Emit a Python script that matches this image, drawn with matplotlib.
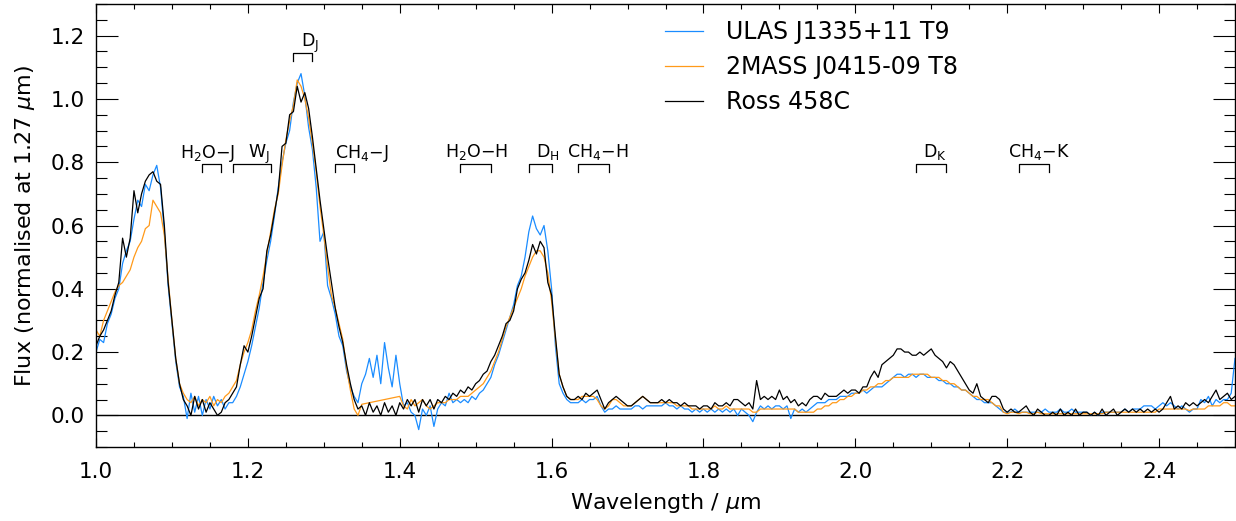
import numpy as np
import matplotlib
matplotlib.use("Agg")
import matplotlib.pyplot as plt
from matplotlib.ticker import MultipleLocator, FixedLocator, FormatStrFormatter

plt.rcParams['font.family'] = ['DejaVu Sans']

# ---------------- data ----------------
wave = np.round(np.linspace(1.0, 2.5, 301), 3)   # 0.005 micron sampling

ross458c = [
    0.22, 0.25, 0.27, 0.30, 0.33, 0.38, 0.42, 0.56, 0.50, 0.56,
    0.71, 0.64, 0.70, 0.74, 0.76, 0.77, 0.74, 0.73, 0.60, 0.42,
    0.30, 0.18, 0.10, 0.05, 0.03, 0.00, 0.06, 0.02, 0.05, 0.01,
    0.04, 0.02, 0.00, 0.01, 0.04, 0.05, 0.07, 0.09, 0.16, 0.22,
    0.20, 0.25, 0.31, 0.37, 0.40, 0.52, 0.57, 0.64, 0.71, 0.85,
    0.86, 0.95, 0.96, 1.04, 0.99, 1.02, 0.97, 0.88, 0.78, 0.68,
    0.59, 0.50, 0.42, 0.34, 0.28, 0.23, 0.16, 0.10, 0.05, 0.02,
    0.03, 0.00, 0.04, 0.01, 0.03, 0.00, 0.04, 0.01, 0.03, 0.00,
    0.04, 0.02, 0.05, 0.03, 0.05, 0.01, 0.05, 0.03, 0.05, 0.02,
    0.05, 0.04, 0.06, 0.05, 0.07, 0.06, 0.08, 0.07, 0.09, 0.08,
    0.10, 0.11, 0.13, 0.14, 0.17, 0.19, 0.22, 0.25, 0.29, 0.30,
    0.33, 0.40, 0.43, 0.45, 0.49, 0.54, 0.51, 0.55, 0.53, 0.42,
    0.38, 0.25, 0.13, 0.09, 0.06, 0.05, 0.05, 0.06, 0.05, 0.07,
    0.06, 0.07, 0.08, 0.05, 0.02, 0.04, 0.05, 0.06, 0.05, 0.04,
    0.03, 0.03, 0.04, 0.05, 0.06, 0.05, 0.04, 0.04, 0.04, 0.05,
    0.04, 0.05, 0.04, 0.04, 0.03, 0.04, 0.03, 0.03, 0.03, 0.02,
    0.03, 0.03, 0.02, 0.04, 0.03, 0.03, 0.04, 0.03, 0.05, 0.05,
    0.04, 0.03, 0.04, 0.02, 0.11, 0.05, 0.06, 0.05, 0.06, 0.05,
    0.08, 0.05, 0.06, 0.04, 0.05, 0.03, 0.04, 0.03, 0.05, 0.06,
    0.06, 0.05, 0.07, 0.06, 0.06, 0.06, 0.07, 0.08, 0.07, 0.08,
    0.08, 0.07, 0.09, 0.09, 0.12, 0.14, 0.12, 0.16, 0.17, 0.18,
    0.19, 0.21, 0.21, 0.20, 0.20, 0.19, 0.19, 0.20, 0.19, 0.20,
    0.21, 0.19, 0.18, 0.17, 0.15, 0.17, 0.16, 0.14, 0.12, 0.10,
    0.08, 0.07, 0.10, 0.06, 0.05, 0.04, 0.06, 0.06, 0.05, 0.02,
    0.01, 0.02, 0.01, 0.01, 0.02, 0.03, 0.01, 0.00, 0.02, 0.01,
    0.00, 0.00, 0.01, 0.00, 0.02, 0.00, 0.01, 0.00, 0.02, 0.00,
    0.01, 0.01, 0.00, 0.01, 0.00, 0.02, 0.00, 0.01, 0.02, 0.00,
    0.01, 0.02, 0.01, 0.02, 0.01, 0.02, 0.01, 0.02, 0.01, 0.02,
    0.01, 0.02, 0.04, 0.06, 0.02, 0.03, 0.02, 0.04, 0.03, 0.04,
    0.03, 0.04, 0.05, 0.04, 0.06, 0.08, 0.05, 0.06, 0.07, 0.05,
    0.06,
]

ulas1335 = [
    0.20, 0.24, 0.23, 0.29, 0.32, 0.37, 0.40, 0.48, 0.52, 0.55,
    0.62, 0.68, 0.66, 0.73, 0.71, 0.76, 0.79, 0.72, 0.58, 0.41,
    0.29, 0.17, 0.09, 0.06, -0.01, 0.07, 0.01, 0.06, 0.00, 0.05,
    0.02, 0.06, 0.03, 0.05, 0.02, 0.04, 0.04, 0.06, 0.09, 0.13,
    0.17, 0.22, 0.28, 0.34, 0.42, 0.49, 0.55, 0.63, 0.72, 0.80,
    0.86, 0.90, 0.99, 1.05, 1.08, 1.01, 0.91, 0.84, 0.72, 0.55,
    0.58, 0.41, 0.37, 0.32, 0.25, 0.22, 0.14, 0.09, 0.06, 0.04,
    0.10, 0.13, 0.18, 0.12, 0.19, 0.10, 0.23, 0.15, 0.09, 0.19,
    0.10, 0.03, 0.04, 0.01, 0.00, -0.045, 0.02, 0.00, 0.03, -0.035,
    0.02, 0.04, 0.03, 0.07, 0.04, 0.05, 0.04, 0.05, 0.04, 0.06,
    0.05, 0.07, 0.08, 0.10, 0.12, 0.16, 0.19, 0.23, 0.27, 0.31,
    0.35, 0.41, 0.44, 0.50, 0.58, 0.63, 0.59, 0.57, 0.60, 0.52,
    0.40, 0.22, 0.10, 0.07, 0.05, 0.04, 0.04, 0.04, 0.05, 0.04,
    0.05, 0.05, 0.06, 0.03, 0.01, 0.02, 0.02, 0.03, 0.02, 0.02,
    0.02, 0.02, 0.03, 0.03, 0.02, 0.03, 0.03, 0.03, 0.03, 0.03,
    0.04, 0.03, 0.03, 0.02, 0.03, 0.02, 0.02, 0.01, 0.02, 0.01,
    0.02, 0.01, 0.02, 0.01, 0.02, 0.01, 0.02, 0.01, 0.02, 0.00,
    0.02, 0.01, 0.00, -0.02, 0.01, 0.03, 0.02, 0.03, 0.02, 0.03,
    0.03, 0.02, 0.03, -0.01, 0.02, 0.01, 0.02, 0.01, 0.02, 0.03,
    0.04, 0.04, 0.04, 0.05, 0.05, 0.05, 0.06, 0.06, 0.06, 0.07,
    0.07, 0.07, 0.08, 0.07, 0.08, 0.09, 0.09, 0.09, 0.10, 0.11,
    0.12, 0.13, 0.13, 0.12, 0.13, 0.13, 0.12, 0.13, 0.13, 0.12,
    0.12, 0.12, 0.11, 0.11, 0.10, 0.10, 0.09, 0.09, 0.08, 0.08,
    0.07, 0.06, 0.05, 0.05, 0.04, 0.04, 0.04, 0.03, 0.02, 0.01,
    0.01, 0.01, 0.02, 0.01, 0.01, 0.01, 0.01, 0.01, 0.01, 0.01,
    0.02, 0.01, 0.01, 0.01, 0.02, 0.01, 0.01, 0.02, 0.01, 0.01,
    0.01, 0.01, 0.00, 0.01, 0.00, 0.01, 0.01, 0.01, 0.01, 0.01,
    0.01, 0.02, 0.01, 0.02, 0.02, 0.02, 0.03, 0.03, 0.03, 0.02,
    0.03, 0.04, 0.03, 0.04, 0.03, 0.02, 0.03, 0.02, 0.01, 0.02,
    0.02, 0.05, 0.04, 0.06, 0.03, 0.05, 0.04, 0.05, 0.05, 0.07,
    0.18,
]

nan = np.nan
twomass0415 = [
    0.27, 0.25, 0.30, 0.33, 0.36, 0.39, 0.41, 0.42, 0.44, 0.46,
    0.50, 0.53, 0.55, 0.59, 0.60, 0.68, 0.66, 0.64, 0.57, 0.43,
    0.30, 0.18, 0.10, 0.07, 0.05, 0.04, 0.06, 0.03, 0.05, 0.04,
    0.06, 0.03, 0.05, 0.04, 0.06, 0.07, 0.09, 0.11, 0.16, 0.20,
    0.23, 0.27, 0.33, 0.38, 0.44, 0.51, 0.58, 0.65, 0.70, 0.79,
    0.87, 0.93, 0.98, 1.06, 1.04, 1.00, 0.94, 0.86, 0.77, 0.66,
    0.57, 0.47, 0.38, 0.34, 0.29, 0.24, 0.15, 0.08, 0.02, 0.00,
    0.035, nan, nan, nan, nan, nan, nan, nan, nan, nan,
    0.06, 0.03, 0.02, 0.05, 0.03, 0.04, 0.05, 0.03, 0.02, 0.03,
    0.04, 0.04, 0.04, 0.05, 0.05, 0.05, 0.06, 0.06, 0.06, 0.07,
    0.08, 0.09, 0.10, 0.12, 0.14, 0.17, 0.20, 0.24, 0.28, 0.31,
    0.34, 0.37, 0.40, 0.44, 0.47, 0.50, 0.52, 0.52, 0.50, 0.45,
    0.36, 0.24, 0.13, 0.09, 0.06, 0.05, 0.05, 0.05, 0.06, 0.06,
    0.06, 0.06, 0.05, 0.03, 0.02, 0.03, 0.05, 0.05, 0.04, 0.03,
    0.03, 0.03, 0.04, 0.05, 0.06, 0.05, 0.04, 0.04, 0.04, 0.04,
    0.04, 0.04, 0.04, 0.03, 0.03, 0.03, 0.03, 0.02, 0.02, 0.02,
    0.02, 0.02, 0.02, 0.03, 0.02, 0.02, 0.03, 0.02, 0.02, 0.02,
    0.02, 0.02, 0.02, 0.01, 0.01, 0.02, 0.02, 0.02, 0.02, 0.02,
    0.02, 0.02, 0.02, 0.02, 0.02, 0.01, 0.01, 0.01, 0.01, 0.01,
    0.02, 0.02, 0.03, 0.03, 0.04, 0.04, 0.05, 0.05, 0.06, 0.06,
    0.07, 0.07, 0.08, 0.08, 0.09, 0.09, 0.10, 0.10, 0.11, 0.11,
    0.12, 0.12, 0.12, 0.12, 0.12, 0.13, 0.13, 0.13, 0.13, 0.13,
    0.12, 0.12, 0.12, 0.11, 0.11, 0.10, 0.10, 0.09, 0.08, 0.08,
    0.07, 0.06, 0.06, 0.05, 0.05, 0.05, 0.04, 0.03, 0.03, 0.01,
    0.005, 0.01, 0.01, 0.005, 0.01, 0.01, 0.005, 0.005, 0.01, 0.005,
    0.005, 0.005, 0.005, 0.005, 0.005, 0.005, 0.005, 0.005, 0.005, 0.005,
    0.005, 0.005, 0.005, 0.005, 0.005, 0.005, 0.01, 0.01, 0.01, 0.01,
    0.01, 0.01, 0.01, 0.01, 0.01, 0.01, 0.01, 0.01, 0.01, 0.01,
    0.02, 0.02, 0.02, 0.02, 0.02, 0.02, 0.02, 0.02, 0.015, 0.02,
    0.02, 0.02, 0.02, 0.03, 0.03, 0.03, 0.03, 0.04, 0.04, 0.03,
    0.03,
]

series_names = ["ULAS J1335+11 T9", "2MASS J0415-09 T8", "Ross 458C"]
series_colors = ["#1a8cff", "#ff9a1a", "black"]

# spectral index windows
feature_labels = [r"H$_\mathregular{2}$O$-$J", r"W$_\mathregular{J}$", r"D$_\mathregular{J}$",
                  r"CH$_\mathregular{4}$$-$J", r"H$_\mathregular{2}$O$-$H", r"D$_\mathregular{H}$",
                  r"CH$_\mathregular{4}$$-$H", r"D$_\mathregular{K}$", r"CH$_\mathregular{4}$$-$K"]
feature_lo = [1.140, 1.180, 1.260, 1.315, 1.480, 1.570, 1.635, 2.080, 2.215]
feature_hi = [1.165, 1.230, 1.285, 1.340, 1.520, 1.600, 1.675, 2.120, 2.255]
feature_level = [0.795, 0.795, 1.145, 0.795, 0.795, 0.795, 0.795, 0.795, 0.795]
label_x = [1.110, 1.200, 1.270, 1.3145, 1.459, 1.580, 1.620, 2.089, 2.201]
label_y = [0.812, 0.812, 1.164, 0.812, 0.815, 0.815, 0.815, 0.815, 0.815]

xticks = [1.0, 1.2, 1.4, 1.6, 1.8, 2.0, 2.2, 2.4]
yticks = [0.0, 0.2, 0.4, 0.6, 0.8, 1.0, 1.2]

# ---------------- figure ----------------
W, H = 1236, 521
fig = plt.figure(figsize=(W / 100, H / 100), dpi=100)
ax = fig.add_axes([96 / W, 74 / H, 1139 / W, 443 / H])

spectra = [ulas1335, twomass0415, ross458c]
for flux, name, col in zip(spectra, series_names, series_colors):
    y = np.asarray(flux, dtype=float)
    m = ~np.isnan(y)
    ax.plot(wave[m], y[m], color=col, lw=0.9, label=name)

ax.axhline(0.0, color="black", lw=1.0, zorder=0)

# feature brackets
for lo, hi, lev in zip(feature_lo, feature_hi, feature_level):
    ax.plot([lo, lo, hi, hi], [lev - 0.025, lev, lev, lev - 0.025], color="black", lw=0.9)
for lab, lx, ly in zip(feature_labels, label_x, label_y):
    ax.text(lx, ly, lab, fontsize=12.5, ha="left", va="baseline")

ax.set_xlim(1.0, 2.5)
ax.set_ylim(-0.1, 1.3)
ax.xaxis.set_major_locator(FixedLocator(xticks))
ax.yaxis.set_major_locator(FixedLocator(yticks))
ax.xaxis.set_minor_locator(MultipleLocator(0.05))
ax.yaxis.set_minor_locator(MultipleLocator(0.05))
ax.xaxis.set_major_formatter(FormatStrFormatter("%.1f"))
ax.yaxis.set_major_formatter(FormatStrFormatter("%.1f"))

ax.tick_params(axis="x", which="major", direction="in", top=True, bottom=True,
               length=6.5, width=0.8, labelsize=15.5, pad=11)
ax.tick_params(axis="x", which="minor", direction="in", top=True, bottom=True,
               length=3.3, width=0.8)
ax.tick_params(axis="y", which="major", direction="in", left=True, right=True,
               length=15.8, width=0.8, labelsize=15.5, pad=8)
ax.tick_params(axis="y", which="minor", direction="in", left=True, right=True,
               length=7.9, width=0.8)
for s in ax.spines.values():
    s.set_linewidth(1.0)

ax.set_xlabel(r"Wavelength / $\mu$m", fontsize=16)
ax.set_ylabel(r"Flux (normalised at 1.27 $\mu$m)", fontsize=16)
ax.xaxis.set_label_coords(0.5, -0.10)
ax.yaxis.set_label_coords(-0.052, 0.5)

leg = ax.legend(loc="upper left", bbox_to_anchor=(665 / W, 1 - 20 / H),
                bbox_transform=fig.transFigure, frameon=False, fontsize=17,
                handlelength=1.6, handletextpad=1.0, labelspacing=0.47,
                borderpad=0, borderaxespad=0)

fig.savefig("out.png", dpi=100)
